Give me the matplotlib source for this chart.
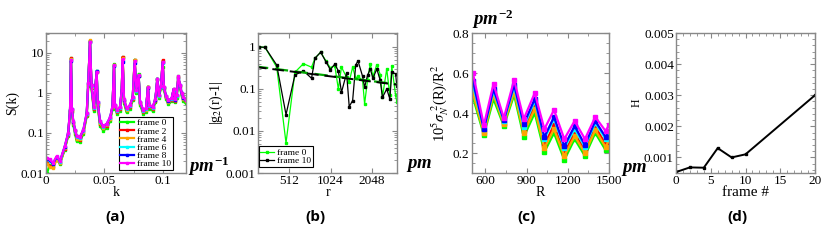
import matplotlib
matplotlib.use("Agg")
import matplotlib.pyplot as plt
from matplotlib.ticker import MultipleLocator, FixedLocator, FixedFormatter, LogLocator, NullFormatter, FuncFormatter, NullLocator

plt.rcParams['font.family'] = ['Liberation Serif', 'DejaVu Serif']
plt.rcParams['mathtext.fontset'] = 'stix'
plt.rcParams['mathtext.it'] = 'Liberation Serif:bold:italic'
plt.rcParams['mathtext.rm'] = 'Liberation Serif:bold'
plt.rcParams['mathtext.bf'] = 'Liberation Serif:bold'

# ---------------- data ----------------
frame_labels = ["frame 0", "frame 2", "frame 4", "frame 6", "frame 8", "frame 10"]
frame_colors = ["#00ff00", "#ff0000", "#ffa500", "#00ffff", "#0000ff", "#ff00ff"]

# (a) structure factor
k_vals = [0.001, 0.003, 0.006, 0.009, 0.012, 0.016, 0.019, 0.0206, 0.0214, 0.0222,
          0.0234, 0.0249, 0.0263, 0.029, 0.032, 0.0349, 0.0362, 0.0377, 0.039, 0.041,
          0.0434, 0.0443, 0.0463, 0.049, 0.052, 0.055, 0.057, 0.0583, 0.059, 0.061,
          0.0634, 0.0649, 0.0657, 0.0669, 0.069, 0.072, 0.0743, 0.076, 0.0775, 0.0794,
          0.0806, 0.0834, 0.0857, 0.0874, 0.0886, 0.0914, 0.0937, 0.0954, 0.0966, 0.0985,
          0.1000, 0.1011, 0.1029, 0.1049, 0.1077, 0.1094, 0.1106, 0.112, 0.1134, 0.1149,
          0.1163, 0.1177, 0.1197]
S_f0 = [0.010, 0.016, 0.015, 0.022, 0.017, 0.038, 0.085, 0.33, 7.5, 0.33,
        0.16, 0.095, 0.062, 0.060, 0.095, 0.26, 1.5, 20.0, 1.3, 0.36,
        3.6, 0.48, 0.15, 0.115, 0.13, 0.20, 0.40, 5.2, 0.42, 0.30,
        0.35, 1.0, 7.9, 0.55, 0.33, 0.40, 0.65, 6.8, 1.0, 3.0,
        0.50, 0.30, 0.33, 1.45, 0.40, 0.36, 0.58, 2.3, 0.75, 1.3,
        4.5, 1.2, 0.70, 0.52, 0.62, 1.2, 0.58, 0.75, 2.6, 1.3,
        0.85, 0.62, 0.55]
S_f2 = [0.018, 0.015, 0.014, 0.022, 0.018, 0.040, 0.090, 0.35, 7.3, 0.36,
        0.18, 0.11, 0.070, 0.068, 0.105, 0.28, 1.6, 20.5, 1.4, 0.40,
        3.4, 0.52, 0.17, 0.13, 0.15, 0.22, 0.44, 5.0, 0.46, 0.34,
        0.40, 1.1, 8.0, 0.62, 0.37, 0.45, 0.72, 6.7, 1.1, 2.7,
        0.55, 0.34, 0.37, 1.4, 0.45, 0.40, 0.64, 2.1, 0.82, 1.4,
        6.5, 1.3, 0.78, 0.58, 0.68, 1.25, 0.64, 0.82, 2.5, 1.5,
        0.92, 0.70, 0.62]
S_f4 = [0.017, 0.014, 0.013, 0.021, 0.018, 0.041, 0.092, 0.36, 7.0, 0.37,
        0.18, 0.11, 0.072, 0.070, 0.108, 0.29, 1.7, 21.0, 1.45, 0.41,
        3.3, 0.53, 0.175, 0.135, 0.155, 0.225, 0.45, 4.9, 0.47, 0.35,
        0.41, 1.1, 7.5, 0.64, 0.38, 0.46, 0.74, 6.5, 1.1, 2.6,
        0.56, 0.35, 0.38, 1.4, 0.46, 0.41, 0.65, 2.2, 0.84, 1.4,
        5.8, 1.3, 0.80, 0.60, 0.70, 1.2, 0.65, 0.84, 2.4, 1.5,
        0.94, 0.72, 0.64]
S_f6 = [0.022, 0.020, 0.017, 0.025, 0.019, 0.044, 0.095, 0.37, 6.6, 0.39,
        0.19, 0.115, 0.080, 0.076, 0.115, 0.30, 1.7, 19.0, 1.5, 0.43,
        3.5, 0.57, 0.19, 0.145, 0.165, 0.24, 0.46, 4.8, 0.49, 0.36,
        0.43, 1.15, 6.2, 0.67, 0.40, 0.48, 0.77, 6.0, 1.15, 2.7,
        0.58, 0.36, 0.40, 1.35, 0.48, 0.43, 0.67, 2.2, 0.86, 1.45,
        5.5, 1.35, 0.82, 0.62, 0.72, 1.2, 0.67, 0.86, 2.3, 1.55,
        0.96, 0.75, 0.66]
S_f8 = [0.023, 0.021, 0.017, 0.025, 0.020, 0.045, 0.098, 0.37, 6.3, 0.39,
        0.19, 0.12, 0.082, 0.078, 0.118, 0.31, 1.8, 18.5, 1.55, 0.44,
        3.5, 0.58, 0.195, 0.148, 0.168, 0.245, 0.47, 4.7, 0.49, 0.37,
        0.44, 1.2, 5.8, 0.68, 0.41, 0.49, 0.78, 5.5, 1.2, 2.7,
        0.59, 0.37, 0.41, 1.35, 0.49, 0.44, 0.68, 2.2, 0.88, 1.5,
        5.8, 1.38, 0.84, 0.64, 0.74, 1.25, 0.68, 0.88, 2.4, 1.6,
        0.98, 0.77, 0.67]
S_f10 = [0.024, 0.022, 0.018, 0.026, 0.020, 0.046, 0.10, 0.38, 6.5, 0.40,
         0.20, 0.12, 0.085, 0.080, 0.12, 0.32, 1.8, 19.0, 1.6, 0.45,
         3.4, 0.60, 0.20, 0.15, 0.17, 0.25, 0.48, 5.0, 0.50, 0.38,
         0.45, 1.2, 7.0, 0.70, 0.42, 0.50, 0.80, 6.3, 1.2, 2.8,
         0.60, 0.38, 0.42, 1.4, 0.50, 0.45, 0.70, 2.3, 0.90, 1.5,
         5.8, 1.4, 0.85, 0.65, 0.75, 1.25, 0.70, 0.90, 2.6, 1.6,
         1.0, 0.78, 0.68]
S_frames = [S_f0, S_f2, S_f4, S_f6, S_f8, S_f10]

# (b) |g2(r)-1|
r_vals = [312, 343, 417, 487, 565, 651, 746, 790, 869, 947, 1020, 1100, 1167, 1230,
          1340, 1400, 1482, 1560, 1620, 1750, 1810, 1900, 1990, 2080, 2220, 2350,
          2440, 2620, 2760, 2850, 3040, 3100]
g_f0 = [1.0, 0.98, 0.33, 0.0052, 0.25, 0.40, 0.33, 0.54, 0.75, 0.47, 0.32, 0.36,
        0.10, 0.33, 0.19, 0.15, 0.33, 0.18, 0.20, 0.16, 0.044, 0.16, 0.40, 0.20,
        0.38, 0.22, 0.065, 0.30, 0.07, 0.35, 0.07, 0.05]
g_f10 = [1.0, 0.98, 0.37, 0.0245, 0.215, 0.27, 0.18, 0.54, 0.75, 0.45, 0.29, 0.39,
         0.27, 0.083, 0.24, 0.038, 0.053, 0.37, 0.47, 0.20, 0.11, 0.21, 0.30, 0.18,
         0.30, 0.16, 0.063, 0.10, 0.058, 0.25, 0.23, 0.12]
fit_r = [290, 3200]
fit_f0 = [0.345, 0.128]
fit_f10 = [0.335, 0.125]

# (c) number variance
R_vals = [510, 590, 660, 735, 810, 880, 960, 1030, 1100, 1175, 1250, 1325, 1400, 1475, 1500]
sig_f0 = [0.48, 0.29, 0.47, 0.335, 0.49, 0.28, 0.40, 0.205, 0.30, 0.165, 0.27, 0.185, 0.30, 0.215, 0.25]
sig_f2 = [0.52, 0.31, 0.50, 0.35, 0.52, 0.31, 0.44, 0.24, 0.34, 0.20, 0.30, 0.21, 0.33, 0.245, 0.28]
sig_f4 = [0.50, 0.30, 0.49, 0.345, 0.505, 0.30, 0.42, 0.225, 0.32, 0.185, 0.285, 0.20, 0.315, 0.23, 0.265]
sig_f6 = [0.54, 0.32, 0.51, 0.36, 0.53, 0.33, 0.46, 0.27, 0.37, 0.225, 0.32, 0.23, 0.35, 0.27, 0.30]
sig_f8 = [0.56, 0.32, 0.52, 0.365, 0.54, 0.345, 0.47, 0.28, 0.38, 0.235, 0.335, 0.24, 0.36, 0.28, 0.31]
sig_f10 = [0.60, 0.34, 0.545, 0.375, 0.565, 0.37, 0.50, 0.32, 0.415, 0.27, 0.36, 0.27, 0.38, 0.31, 0.34]
sig_frames = [sig_f0, sig_f2, sig_f4, sig_f6, sig_f8, sig_f10]

# (d) H vs frame
frame_num = [0, 2, 4, 6, 8, 10, 20]
H_vals = [0.00053, 0.00068, 0.00067, 0.0013, 0.0010, 0.0011, 0.0030]

# ---------------- figure ----------------
W, Hpx = 826, 242
fig = plt.figure(figsize=(W / 100, Hpx / 100), dpi=100)

def ax_at(x0, x1, y0=33, y1=173):
    return fig.add_axes([x0 / W, 1 - y1 / Hpx, (x1 - x0) / W, (y1 - y0) / Hpx])

def fx(x):
    return x / W

def fy(y):
    return 1 - y / Hpx

FS = 9.5
spine_col = "#888888"

def style(ax):
    for s in ax.spines.values():
        s.set_color(spine_col)
        s.set_linewidth(1.0)
    ax.tick_params(which='both', direction='in', top=True, right=True,
                   labelsize=FS, colors='black', pad=1.5)
    ax.tick_params(which='major', length=3.5, width=0.8, color=spine_col)
    ax.tick_params(which='minor', length=2, width=0.6, color=spine_col)

# (a)
axa = ax_at(46, 186)
for lab, col, S in zip(frame_labels, frame_colors, S_frames):
    axa.plot(k_vals, S, color=col, lw=1.6, marker='s', ms=2, label=lab)
axa.set_yscale('log')
axa.set_xlim(0, 0.12)
axa.set_ylim(0.01, 31.6)
axa.xaxis.set_major_locator(FixedLocator([0, 0.05, 0.1]))
axa.xaxis.set_major_formatter(FixedFormatter(["0", "0.05", "0.1"]))
axa.xaxis.set_minor_locator(MultipleLocator(0.025))
axa.yaxis.set_major_locator(FixedLocator([0.01, 0.1, 1, 10]))
axa.yaxis.set_major_formatter(FixedFormatter(["0.01", "0.1", "1", "10"]))
axa.yaxis.set_minor_locator(LogLocator(base=10, subs=range(2, 10)))
axa.yaxis.set_minor_formatter(NullFormatter())
axa.set_xlabel("k", fontsize=FS + 0.5, labelpad=-1)
axa.set_ylabel("S(k)", fontsize=FS + 0.5, labelpad=1)
style(axa)
lega = fig.legend(*axa.get_legend_handles_labels(), loc='lower right',
                  bbox_to_anchor=(fx(173), fy(170)), fontsize=6.8,
                  handlelength=1.4, handletextpad=0.35,
                  labelspacing=-0.05, borderpad=0.2, borderaxespad=0.0,
                  fancybox=False, edgecolor='black', framealpha=1)
lega.get_frame().set_linewidth(0.8)

# (b)
axb = ax_at(258, 397)
axb.plot(r_vals, g_f0, color="#00ff00", lw=0.9, marker='s', ms=1.6, label="frame 0")
axb.plot(r_vals, g_f10, color="black", lw=0.9, marker='s', ms=1.6, label="frame 10")
axb.plot(fit_r, fit_f0, color="#00aa00", lw=1.6, ls=(0, (6, 3)))
axb.plot(fit_r, fit_f10, color="black", lw=1.4, ls=(0, (6, 3)))
axb.set_xscale('log', base=2)
axb.set_yscale('log')
axb.set_xlim(305, 3110)
axb.set_ylim(0.001, 2.15)
axb.xaxis.set_major_locator(FixedLocator([512, 1024, 2048]))
axb.xaxis.set_major_formatter(FixedFormatter(["512", "1024", "2048"]))
axb.xaxis.set_minor_locator(NullLocator())
axb.yaxis.set_major_locator(FixedLocator([0.001, 0.01, 0.1, 1]))
axb.yaxis.set_major_formatter(FixedFormatter(["0.001", "0.01", "0.1", "1"]))
axb.yaxis.set_minor_locator(LogLocator(base=10, subs=range(2, 10)))
axb.yaxis.set_minor_formatter(NullFormatter())
axb.set_xlabel("r", fontsize=FS + 0.5, labelpad=-1)
axb.set_ylabel(r"|g$_2$(r)-1|", fontsize=FS + 0.5, labelpad=1)
style(axb)
legb = fig.legend(*axb.get_legend_handles_labels(), loc='lower left',
                  bbox_to_anchor=(fx(258.5), fy(167)), fontsize=6.8,
                  handlelength=1.4, handletextpad=0.35,
                  labelspacing=-0.05, borderpad=0.2, borderaxespad=0.0,
                  fancybox=False, edgecolor='black', framealpha=1)
legb.get_frame().set_linewidth(0.8)

# (c)
axc = ax_at(471.5, 609)
for lab, col, s in zip(frame_labels, frame_colors, sig_frames):
    axc.plot(R_vals, s, color=col, lw=1.6, marker='s', ms=2.2, label=lab)
axc.set_xlim(500, 1500)
axc.set_ylim(0.1, 0.8)
axc.xaxis.set_major_locator(MultipleLocator(300))
axc.xaxis.set_minor_locator(MultipleLocator(150))
axc.xaxis.set_major_formatter(FuncFormatter(lambda v, p: f"{int(v)}"))
axc.yaxis.set_major_locator(FixedLocator([0.2, 0.4, 0.6, 0.8]))
axc.yaxis.set_major_formatter(FixedFormatter(["0.2", "0.4", "0.6", "0.8"]))
axc.yaxis.set_minor_locator(MultipleLocator(0.05))
axc.set_xlabel("R", fontsize=FS + 0.5, labelpad=-1)
axc.set_ylabel(r"10$^5\sigma_N^{\ 2}$(R)/R$^2$", fontsize=FS + 1, labelpad=1)
style(axc)

# (d)
axd = ax_at(676, 815)
axd.plot(frame_num, H_vals, color="black", lw=1.4, marker='s', ms=2)
axd.set_xlim(0, 20)
axd.set_ylim(0.0005, 0.005)
axd.xaxis.set_major_locator(MultipleLocator(5))
axd.xaxis.set_minor_locator(MultipleLocator(1))
axd.yaxis.set_major_locator(FixedLocator([0.001, 0.002, 0.003, 0.004, 0.005]))
axd.yaxis.set_major_formatter(FixedFormatter(["0.001", "0.002", "0.003", "0.004", "0.005"]))
axd.yaxis.set_minor_locator(MultipleLocator(0.0002))
axd.set_xlabel("frame #", fontsize=FS + 1.5, labelpad=-1)
axd.set_ylabel("H", fontsize=FS - 1, labelpad=1)
style(axd)

# panel labels
for lab, xc in [("(a)", 115), ("(b)", 315), ("(c)", 526), ("(d)", 737)]:
    fig.text(fx(xc), fy(217), lab, ha='center', va='center',
             fontsize=11, fontweight='bold', family=['Open Sans', 'DejaVu Sans'])

# unit annotations
def unit(txt, x, y):
    fig.text(fx(x), fy(y), txt, ha='left', va='baseline', fontsize=13.5,
             math_fontfamily='custom')

plt.rcParams['mathtext.fontset'] = 'custom'
unit(r"$pm^{-1}$", 188, 172)
unit(r"$pm$", 406, 168)
unit(r"$pm^{-2}$", 472, 25)
unit(r"$pm$", 621, 172)
plt.rcParams['mathtext.fontset'] = 'stix'

fig.savefig("out.png", dpi=100)
